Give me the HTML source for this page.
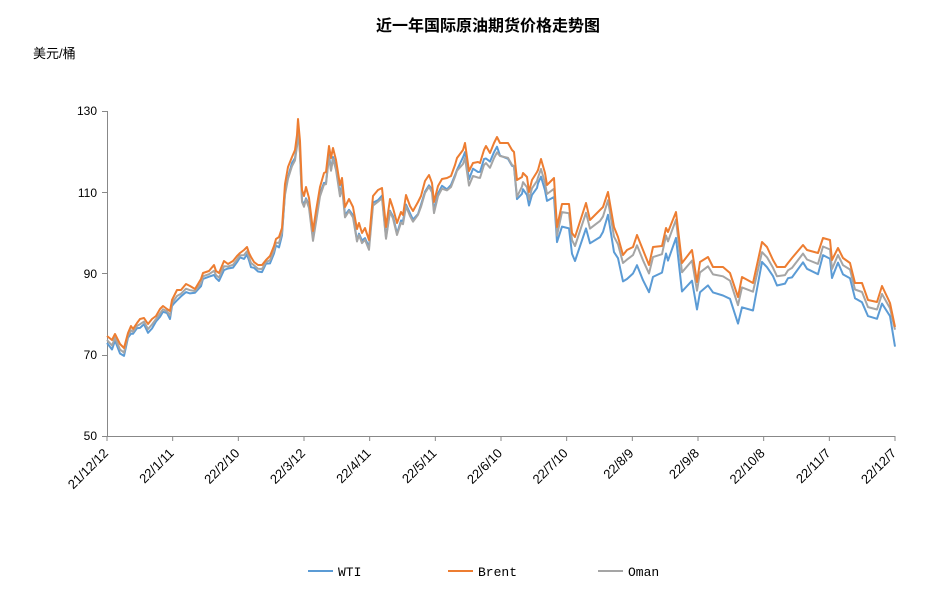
<!DOCTYPE html>
<html><head><meta charset="utf-8"><style>
body{margin:0;background:#fff}
svg{display:block;font-family:"Liberation Sans","Noto Sans CJK SC",sans-serif}
</style></head><body>
<svg id="s" width="937" height="601" xmlns="http://www.w3.org/2000/svg">
<text x="488" y="31" text-anchor="middle" font-size="16" font-weight="bold" fill="#000">近一年国际原油期货价格走势图</text>
<text x="33" y="58" font-size="13" fill="#000">美元/桶</text>
<g font-size="12" fill="#000" text-anchor="end">
<text x="97" y="115">130</text><text x="97" y="197">110</text><text x="97" y="278">90</text><text x="97" y="359">70</text><text x="97" y="440">50</text>
</g>
<g stroke="#888" stroke-width="1">
<line x1="107.5" y1="111" x2="107.5" y2="436"/>
<line x1="107" y1="436.5" x2="895" y2="436.5"/>
<line x1="102" y1="111.5" x2="107" y2="111.5"/><line x1="102" y1="192.5" x2="107" y2="192.5"/><line x1="102" y1="273.5" x2="107" y2="273.5"/><line x1="102" y1="355.5" x2="107" y2="355.5"/><line x1="102" y1="436.5" x2="107" y2="436.5"/>
</g>
<g id="xt"></g>
<g id="series" fill="none" stroke-width="2" stroke-linejoin="round"></g>
<g font-size="13" fill="#000" font-family="Liberation Mono,monospace">
<line x1="308" y1="571" x2="333" y2="571" stroke="#5b9bd5" stroke-width="2"/><text x="338" y="576">WTI</text>
<line x1="448" y1="571" x2="473" y2="571" stroke="#ed7d31" stroke-width="2"/><text x="478" y="576">Brent</text>
<line x1="598" y1="571" x2="623" y2="571" stroke="#a5a5a5" stroke-width="2"/><text x="628" y="576">Oman</text>
</g>
</svg>
<script>
var ns="http://www.w3.org/2000/svg";
var labels=["21/12/12","22/1/11","22/2/10","22/3/12","22/4/11","22/5/11","22/6/10","22/7/10","22/8/9","22/9/8","22/10/8","22/11/7","22/12/7"];
var xt=document.getElementById("xt");
for(var i=0;i<13;i++){var x=107+i*(788/12);
var l=document.createElementNS(ns,"line");l.setAttribute("x1",x);l.setAttribute("x2",x);l.setAttribute("y1",436);l.setAttribute("y2",441);l.setAttribute("stroke","#888");xt.appendChild(l);
var t=document.createElementNS(ns,"text");t.setAttribute("font-size","13");t.setAttribute("text-anchor","end");t.setAttribute("transform","translate("+(x+2)+",454) rotate(-45)");t.textContent=labels[i];xt.appendChild(t);}
var B=[[107,336],[112,340],[115,334],[120,344],[124,348],[128,333],[131,326],[133,329],[137,323],[140,319],[144,318],[148,324],[152,319],[156,316],[160,309],[163,306],[167,309],[170,311],[172,300],[174,296],[177,290],[181,290],[186,284],[190,286],[195,289],[201,279],[203,273],[209,271],[214,265],[216,271],[219,273],[224,261],[228,264],[233,261],[237,256],[240,253],[244,250],[247,247],[249,253],[251,257],[254,262],[258,265],[262,265],[266,260],[270,256],[274,246],[276,239],[279,237],[282,228],[285,184],[288,167],[292,157],[295,150],[297,135],[298,119],[300,141],[302,190],[304,196],[306,187],[309,198],[313,231],[316,211],[320,187],[324,173],[326,172],[329,146],[331,158],[333,148],[336,160],[340,185],[342,178],[345,207],[349,199],[353,207],[357,229],[359,223],[362,233],[365,228],[369,240],[373,196],[378,190],[382,188],[386,227],[390,199],[393,208],[397,223],[401,212],[403,215],[406,195],[410,206],[413,211],[418,202],[421,196],[425,181],[429,175],[432,183],[434,202],[438,186],[442,179],[447,178],[451,176],[455,165],[457,158],[463,150],[465,143],[469,171],[473,163],[478,162],[480,163],[484,150],[486,146],[490,153],[494,143],[497,137],[500,143],[508,143],[512,150],[514,152],[517,180],[522,177],[523,173],[527,177],[529,192],[532,180],[537,172],[538,170],[541,159],[545,173],[547,185],[554,178],[557,227],[562,204],[569,204],[572,233],[575,237],[586,203],[590,220],[600,210],[603,207],[608,192],[614,227],[618,237],[623,255],[627,250],[633,247],[637,235],[643,250],[649,265],[653,247],[662,246],[666,228],[668,232],[676,212],[682,263],[692,250],[697,282],[700,262],[708,257],[713,267],[723,267],[730,273],[738,297],[742,277],[753,283],[762,242],[767,247],[773,260],[777,267],[785,267],[788,263],[792,258],[803,245],[807,250],[818,253],[823,238],[830,240],[832,260],[838,248],[843,258],[850,263],[855,283],[862,283],[868,300],[877,302],[882,286],[890,303],[895,327]];
function off(kind,x,i){var n=Math.sin(i*2.3)*2+Math.sin(i*0.7)*1.5;
var o;
if(kind==0){if(x<285)o=7;else if(x<500)o=9;else if(x<560)o=16;else if(x<620)o=24;else if(x<760)o=28;else if(x<840)o=18;else o=16;if(x>=895)o=20;}
else{if(x<285)o=4;else if(x<460)o=11;else if(x<520)o=15;else if(x<840)o=9;else o=7;if(x>=895)o=3;n*=0.6;}
return Math.max(2,o+n);}
function path(pts,c){var p=document.createElementNS(ns,"polyline");p.setAttribute("points",pts.map(function(a){return a[0]+","+a[1].toFixed(1)}).join(" "));p.setAttribute("stroke",c);document.getElementById("series").appendChild(p);}
path(B.map(function(a,i){return [a[0],a[1]+off(0,a[0],i)]}),"#5b9bd5");
path(B.map(function(a,i){return [a[0],a[1]+off(1,a[0],i)]}),"#a5a5a5");
path(B,"#ed7d31");
</script>
</body></html>
